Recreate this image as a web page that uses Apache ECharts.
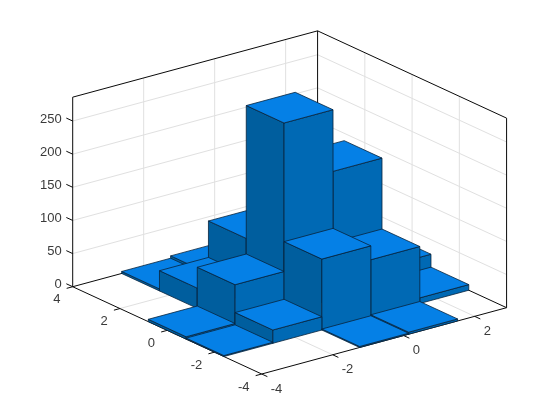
<!DOCTYPE html>
<html>
<head>
<meta charset="utf-8">
<style>html,body{margin:0;padding:0;background:#fff}#c{width:560px;height:420px}</style>
<script src="https://cdn.jsdelivr.net/npm/echarts@6/dist/echarts.min.js"></script>
</head>
<body>
<div id="c"></div>
<script>
// ---- data ----
var xEdges = [-4, -2.62, -1.24, 0.14, 1.52, 2.9];
var yEdges = [-4, -2.4, -0.8, 0.8, 2.4, 4];
// counts[j][i]: j = y bin, i = x bin
var countsY0 = [0, 0, 1.5, 3, 0];
var countsY1 = [1.5, 20, 107, 86, 8.5];
var countsY2 = [3.5, 62, 286, 193, 28];
var countsY3 = [0, 30.5, 85.5, 0, 0];
var countsY4 = [0, 3, 6.5, 0, 0];
var counts = [countsY0, countsY1, countsY2, countsY3, countsY4];
var xTicks = [-4, -2, 0, 2];
var yTicks = [-4, -2, 0, 2, 4];
var zTicks = [0, 50, 100, 150, 200, 250];
var xLim = [-4, 2.9];
var yLim = [-4, 4];
var zLim = [0, 286];

// ---- projection of the 3-D box on the page plane ----
var anchor = [261.7, 374];
var xUnit = [35.49, -9.61];
var yUnit = [-23.625, -10.91];
var zUnit = [0, -0.6628];
function project(x, y, z) {
  var a = x - xLim[0], b = y - yLim[0];
  return [anchor[0] + a * xUnit[0] + b * yUnit[0] + z * zUnit[0],
          anchor[1] + a * xUnit[1] + b * yUnit[1] + z * zUnit[1]];
}

var COL_TOP = '#0580E6', COL_FRONT = '#0069B4', COL_LEFT = '#005E9E', COL_EDGE = '#07233C';
var COL_GRID = '#E0E0E0', COL_BOX = '#0A0A0A', COL_TEXT = '#3A3A3A';

// ---- bars, listed back to front ----
var barRows = [];
for (var j = counts.length - 1; j >= 0; j--) {
  for (var i = counts[j].length - 1; i >= 0; i--) {
    if (counts[j][i] > 0) barRows.push([xEdges[i], xEdges[i + 1], yEdges[j], yEdges[j + 1], counts[j][i]]);
  }
}

// ---- grid and box lines ----
var gridRows = [];
xTicks.forEach(function (t) {
  if (t === xLim[0]) return;
  gridRows.push([t, yLim[0], 0, t, yLim[1], 0]);
  gridRows.push([t, yLim[1], 0, t, yLim[1], zLim[1]]);
});
yTicks.forEach(function (t) {
  if (t === yLim[0] || t === yLim[1]) return;
  gridRows.push([xLim[0], t, 0, xLim[1], t, 0]);
  gridRows.push([xLim[1], t, 0, xLim[1], t, zLim[1]]);
});
zTicks.forEach(function (t) {
  if (t === 0) return;
  gridRows.push([xLim[0], yLim[1], t, xLim[1], yLim[1], t]);
  gridRows.push([xLim[1], yLim[0], t, xLim[1], yLim[1], t]);
});
var X0 = xLim[0], X1 = xLim[1], Y0 = yLim[0], Y1 = yLim[1], Z1 = zLim[1];
var boxRows = [
  [X0, Y1, 0, X0, Y1, Z1], [X1, Y1, 0, X1, Y1, Z1], [X1, Y0, 0, X1, Y0, Z1],
  [X0, Y1, Z1, X1, Y1, Z1], [X1, Y1, Z1, X1, Y0, Z1],
  [X0, Y1, 0, X1, Y1, 0], [X1, Y1, 0, X1, Y0, 0],
  [X0, Y1, 0, X0, Y0, 0], [X0, Y0, 0, X1, Y0, 0]
];
var tickLenX = 0.24, tickLenY = 0.17, tickLenZ = 0.27;
xTicks.forEach(function (t) { boxRows.push([t, Y0, 0, t, Y0 - tickLenX, 0]); });
yTicks.forEach(function (t) { boxRows.push([X0, t, 0, X0 - tickLenY, t, 0]); });
zTicks.forEach(function (t) { boxRows.push([X0, Y1, t, X0, Y1 + tickLenZ, t]); });

// ---- tick labels: [x, y, z, text, dx, dy, align] ----
var labelRows = [];
xTicks.forEach(function (t) { labelRows.push([t, Y0, 0, String(t), 9, 15, 'left']); });
yTicks.forEach(function (t) { labelRows.push([X0, t, 0, String(t), -12.2, 13, 'right']); });
zTicks.forEach(function (t) { labelRows.push([X0, Y1, t, String(t), -11, -2, 'right']); });

function lineSeries(rows, color, width) {
  return {
    type: 'custom', coordinateSystem: 'cartesian2d', silent: true, clip: false,
    data: rows,
    renderItem: function (p, api) {
      var a = api.coord(project(api.value(0), api.value(1), api.value(2)));
      var b = api.coord(project(api.value(3), api.value(4), api.value(5)));
      return { type: 'line', shape: { x1: a[0], y1: a[1], x2: b[0], y2: b[1] },
        style: { stroke: color, lineWidth: width, fill: null } };
    }
  };
}

var option = {
  animation: false,
  backgroundColor: '#ffffff',
  grid: { left: 0, right: 0, top: 0, bottom: 0 },
  xAxis: { type: 'value', min: 0, max: 560, show: false },
  yAxis: { type: 'value', min: 0, max: 420, inverse: true, show: false },
  series: [
    lineSeries(gridRows, COL_GRID, 1),
    lineSeries(boxRows, COL_BOX, 1),
    {
      type: 'custom', coordinateSystem: 'cartesian2d', silent: true, clip: false,
      data: barRows,
      renderItem: function (p, api) {
        var x0 = api.value(0), x1 = api.value(1), y0 = api.value(2), y1 = api.value(3), h = api.value(4);
        function pt(x, y, z) { return api.coord(project(x, y, z)); }
        function face(points, fill) {
          return { type: 'polygon', shape: { points: points },
            style: { fill: fill, stroke: COL_EDGE, lineWidth: 0.8, lineJoin: 'round' } };
        }
        return { type: 'group', children: [
          face([pt(x0, y0, 0), pt(x0, y1, 0), pt(x0, y1, h), pt(x0, y0, h)], COL_LEFT),
          face([pt(x0, y0, 0), pt(x1, y0, 0), pt(x1, y0, h), pt(x0, y0, h)], COL_FRONT),
          face([pt(x0, y0, h), pt(x1, y0, h), pt(x1, y1, h), pt(x0, y1, h)], COL_TOP)
        ] };
      }
    },
    {
      type: 'custom', coordinateSystem: 'cartesian2d', silent: true, clip: false,
      data: labelRows,
      renderItem: function (p, api) {
        var row = labelRows[p.dataIndex];
        var a = api.coord(project(row[0], row[1], row[2]));
        return { type: 'text', x: a[0] + row[4], y: a[1] + row[5],
          style: { text: row[3], fill: COL_TEXT, font: '13px "Liberation Sans", Arial, sans-serif',
            align: row[6], verticalAlign: 'middle' } };
      }
    }
  ]
};
var chart = echarts.init(document.getElementById('c'), null, { renderer: 'canvas', width: 560, height: 420 });
chart.setOption(option);
</script>
</body>
</html>
